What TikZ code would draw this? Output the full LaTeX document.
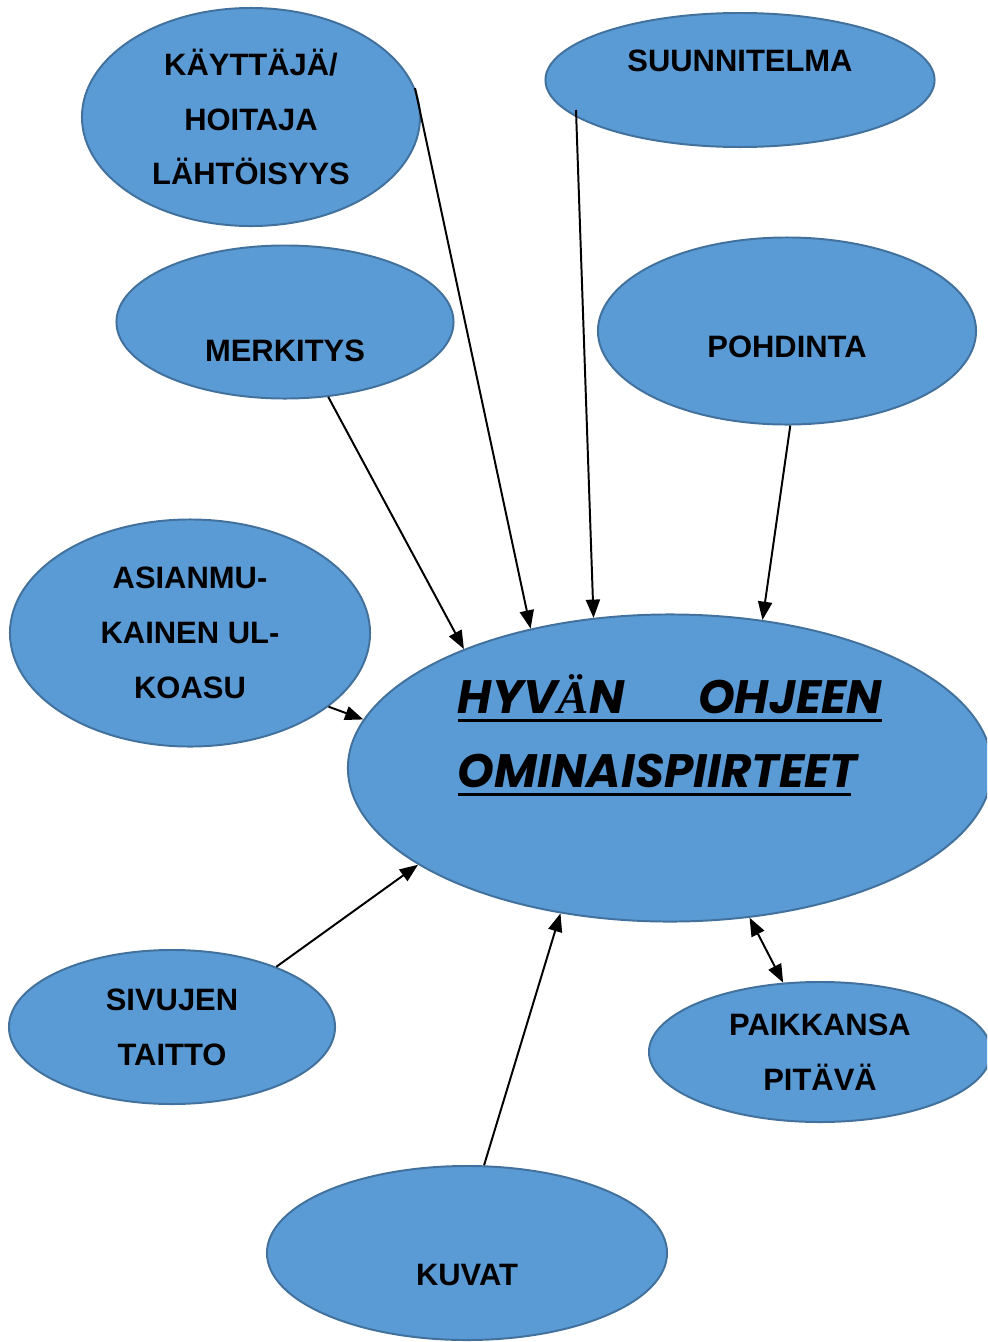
\documentclass[tikz,border=0pt]{standalone}
\usepackage{fontspec}
\setmainfont{Liberation Sans}
\newfontfamily\titlefont{Poppins}
\newfontfamily\serifletter{Liberation Serif}
\usetikzlibrary{shapes.geometric, arrows.meta}
\definecolor{bubblefill}{RGB}{91,155,213}
\definecolor{bubbleedge}{RGB}{65,113,156}
\newcommand{\ulline}[2]{\vtop{\hbox to #1{#2}\kern3.5pt\hrule height 2.2pt}}
\newcommand{\lift}[2]{\raisebox{#1}[0pt][0pt]{#2}}

\begin{document}
\begin{tikzpicture}[
    x=0.025cm, y=-0.025cm,
    bubble/.style={ellipse, draw=bubbleedge, line width=1.4pt, fill=bubblefill, inner sep=0pt, font=\fontsize{22}{39}\selectfont\bfseries, align=center},
    arrow/.style={-{Triangle[length=13pt, width=10pt]}, line width=1.4pt},
    twoway/.style={{Triangle[length=13pt, width=10pt]}-{Triangle[length=13pt, width=10pt]}, line width=1.4pt}
]
    \useasboundingbox (0,0) rectangle (987,1342);
    \clip (0,0) rectangle (987,1342);

    % Surrounding topics
    \node[bubble, minimum width=8.45cm, minimum height=5.45cm] (user) at (251,117) {KÄYTTÄJÄ/\\HOITAJA\\LÄHTÖISYYS};
    \node[bubble, minimum width=9.725cm, minimum height=3.35cm] (plan) at (740,80) {\lift{6pt}{SUUNNITELMA}};
    \node[bubble, minimum width=8.425cm, minimum height=3.825cm] (meaning) at (285,322) {\lift{-28pt}{MERKITYS}};
    \node[bubble, minimum width=9.45cm, minimum height=4.675cm] (reflect) at (787,331) {\lift{-19pt}{POHDINTA}};
    \node[bubble, minimum width=9cm, minimum height=5.675cm] (layout) at (190,633) {ASIANMU-\\KAINEN UL-\\KOASU};
    \node[bubble, minimum width=8.15cm, minimum height=3.85cm] (pages) at (172,1027) {SIVUJEN\\TAITTO};
    \node[bubble, minimum width=8.55cm, minimum height=3.5cm] (accurate) at (820,1052) {PAIKKANSA\\PITÄVÄ};
    \node[bubble, minimum width=10cm, minimum height=4.35cm] (images) at (467,1253) {\lift{-23pt}{KUVAT}};

    % Main topic
    \node[bubble, minimum width=16.1cm, minimum height=7.675cm] (main) at (670,768) {\lift{-14.2pt}{\vbox{\titlefont\bfseries\itshape\fontsize{33.3}{53}\selectfont
        \baselineskip=53pt \lineskiplimit=-100pt
        \hbox{\ulline{10.6cm}{HYV{\serifletter Ä}N\hfill OHJEEN}}
        \hbox{\ulline{9.825cm}{OMINAISPIIRTEET\hfill}}}}};

    % Connections
    \coordinate (plan-out) at (576,110);
    \draw[arrow] (user.10.7) -- (main.135.4);
    \draw[arrow] (plan-out) -- (main.117.2);
    \draw[arrow] (meaning.-60.3) -- (main.150.4);
    \draw[arrow] (reflect.-88) -- (main.58.7);
    \draw[arrow] (layout.-28.2) -- (main.171.8);
    \draw[arrow] (pages.30.8) -- (main.201.8);
    \draw[arrow] (images.79) -- (main.233.1);
    \draw[twoway] (main.-62.6) -- (accurate.118.9);
\end{tikzpicture}
\end{document}
